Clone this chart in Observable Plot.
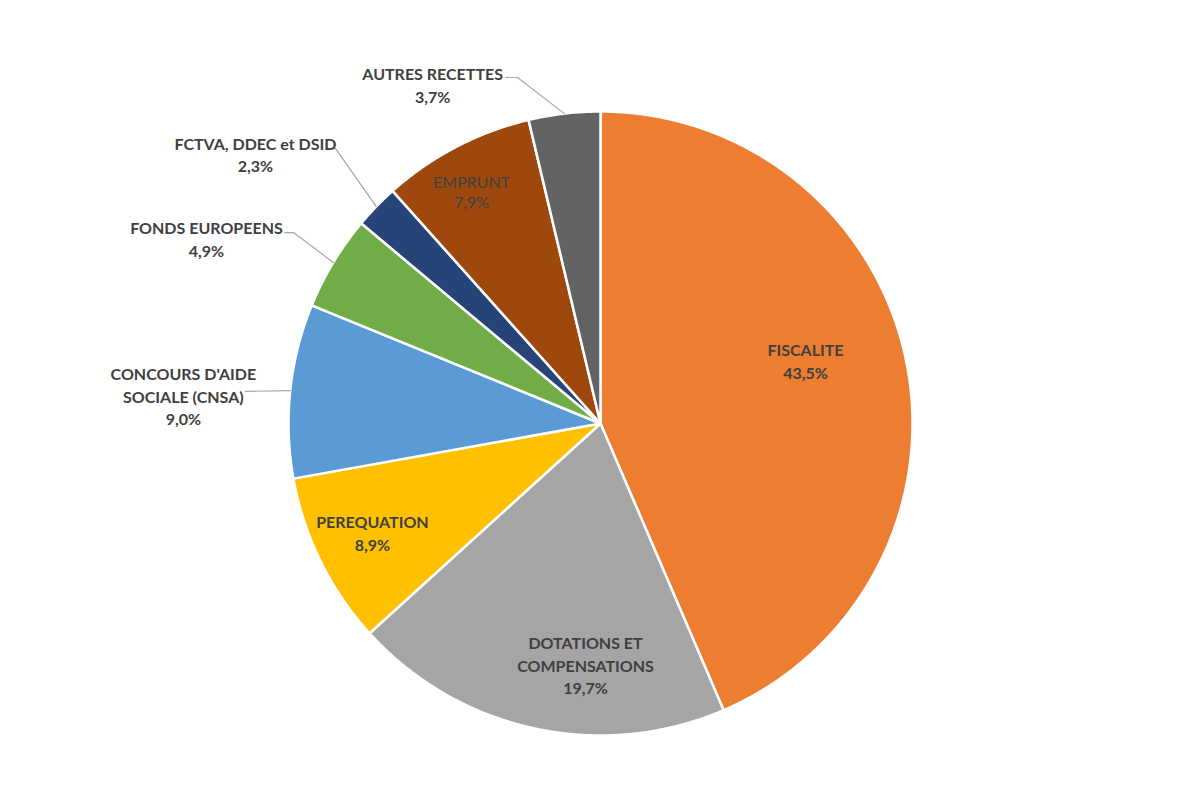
<!DOCTYPE html>
<html><head><meta charset="utf-8">
<script src="https://cdn.jsdelivr.net/npm/d3@7"></script>
<script src="https://cdn.jsdelivr.net/npm/@observablehq/plot@0.6"></script>
<style>body{margin:0;background:#fff} #chart{width:1200px;height:800px}</style>
</head><body><div id="chart"></div>
<script>
// ---- data ----
const categories = ["FISCALITE", "DOTATIONS ET\nCOMPENSATIONS", "PEREQUATION", "CONCOURS D'AIDE\nSOCIALE (CNSA)", "FONDS EUROPEENS", "FCTVA, DDEC et DSID", "EMPRUNT", "AUTRES RECETTES"];
const shares = [43.5, 19.7, 8.9, 9.0, 4.9, 2.3, 7.9, 3.7];
const colors = ["#ED7D31", "#A5A5A5", "#FFC000", "#5B9BD5", "#70AD47", "#264478", "#9E480E", "#636363"];

// ---- layout (unit = pie radius, origin = pie centre) ----
const R = 312, CX = 600, CY = 423;
const labelPos = [
  {x: 0.657, y: 0.202, bold: true},
  {x: -0.048, y: -0.772, bold: true},
  {x: -0.731, y: -0.349, bold: true},
  {x: -1.337, y: 0.090, bold: true},
  {x: -1.263, y: 0.593, bold: true},
  {x: -1.106, y: 0.865, bold: true},
  {x: -0.413, y: 0.744, bold: false},
  {x: -0.538, y: 1.087, bold: true}
];
// leader lines: start point and elbow, end on the slice edge at mid-angle
const leaders = {
  3: [[-1.138, 0.103]],
  4: [[-1.013, 0.612], [-0.984, 0.612]],
  5: [[-0.881, 0.881], [-0.849, 0.881]],
  7: [[-0.304, 1.109], [-0.266, 1.109]]
};

const fmt = v => v.toFixed(1).replace(".", ",") + "%";
const arcs = d3.pie().sort(null).startAngle(0).endAngle(2 * Math.PI)(shares);

const piePts = [];
arcs.forEach((a, i) => {
  const cat = categories[i];
  piePts.push({cat, x: 0, y: 0});
  const n = Math.max(2, Math.ceil((a.endAngle - a.startAngle) / 0.005));
  for (let k = 0; k <= n; k++) {
    const t = a.startAngle + (a.endAngle - a.startAngle) * k / n;
    piePts.push({cat, x: Math.sin(t), y: Math.cos(t)});
  }
});

const leaderPts = [];
Object.entries(leaders).forEach(([i, pts]) => {
  const a = arcs[+i];
  const m = (a.startAngle + a.endAngle) / 2;
  pts.forEach(p => leaderPts.push({cat: categories[i], x: p[0], y: p[1]}));
  leaderPts.push({cat: categories[i], x: Math.sin(m), y: Math.cos(m)});
});

const labelRows = categories.map((c, i) => ({
  text: c + "\n" + fmt(shares[i]), x: labelPos[i].x, y: labelPos[i].y, bold: labelPos[i].bold
}));

const chart = Plot.plot({
  width: 1200, height: 800,
  margin: 0,
  style: {background: "#fff", fontFamily: "Lato, sans-serif"},
  x: {type: "linear", domain: [-CX / R, (1200 - CX) / R], range: [0, 1200], axis: null},
  y: {type: "linear", domain: [-(800 - CY) / R, CY / R], range: [800, 0], axis: null},
  color: {domain: categories, range: colors},
  marks: [
    Plot.line(piePts, {x: "x", y: "y", z: "cat", fill: "cat", stroke: "white", strokeWidth: 2.5, strokeLinejoin: "round", curve: "linear-closed"}),
    Plot.line(leaderPts, {x: "x", y: "y", z: "cat", stroke: "#a6a6a6", strokeWidth: 1.2}),
    Plot.text(labelRows.filter(d => d.bold), {x: "x", y: "y", text: "text", fill: "#404040", fontSize: 16, fontWeight: "bold", fontFamily: "Lato", lineHeight: 1.4}),
    Plot.text(labelRows.filter(d => !d.bold), {x: "x", y: "y", text: "text", fill: "#404040", fontSize: 16, fontWeight: "normal", fontFamily: "Lato", lineHeight: 1.3})
  ]
});
document.getElementById("chart").append(chart);
</script>
</body></html>
